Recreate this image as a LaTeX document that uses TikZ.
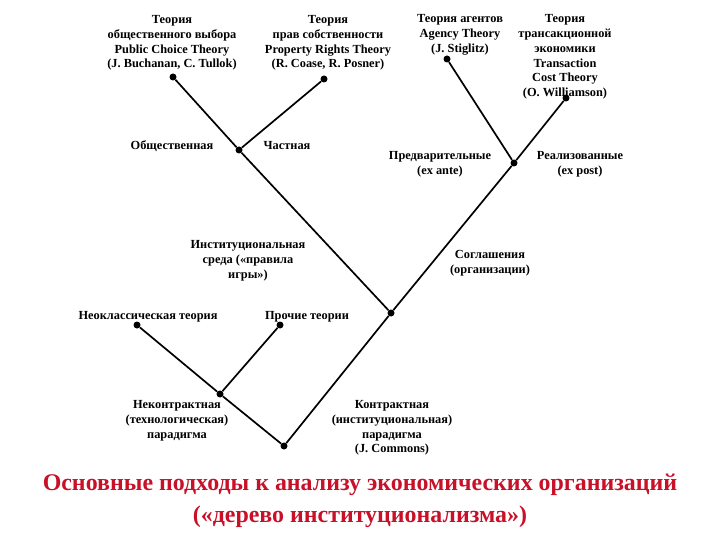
\documentclass[tikz,border=0pt]{standalone}
\usepackage{fontspec}
\setmainfont{Liberation Serif}
\definecolor{titlered}{RGB}{200,16,40}
\begin{document}
\begin{tikzpicture}[x=1bp,y=-1bp,
  dot/.style={circle,fill,inner sep=0pt,minimum size=7bp},
  lbl/.style={align=center,inner sep=0pt,font=\fontsize{12.4}{14.8}\selectfont\bfseries},
  branch/.style={line width=1.7bp}]
  \useasboundingbox (0,0) rectangle (720,540);
  % branch points of the tree
  \node[dot] (pc)   at (173,77)  {};
  \node[dot] (pr)   at (324,79)  {};
  \node[dot] (ag)   at (447,59)  {};
  \node[dot] (tc)   at (566,98)  {};
  \node[dot] (soc)  at (239,150) {};
  \node[dot] (ante) at (514,163) {};
  \node[dot] (agr)  at (391,313) {};
  \node[dot] (neo)  at (137,325) {};
  \node[dot] (oth)  at (280,325) {};
  \node[dot] (ncon) at (220,394) {};
  \node[dot] (root) at (284,446) {};
  % branches
  \draw[branch] (pc) -- (soc);
  \draw[branch] (pr) -- (soc);
  \draw[branch] (soc) -- (agr);
  \draw[branch] (ag) -- (ante);
  \draw[branch] (tc) -- (ante);
  \draw[branch] (ante) -- (agr);
  \draw[branch] (agr) -- (root);
  \draw[branch] (neo) -- (ncon);
  \draw[branch] (oth) -- (ncon);
  \draw[branch] (ncon) -- (root);
  % theories at the top
  \node[lbl] (tpc) at (172,43) {Теория\\общественного выбора\\Public Choice Theory\\(J. Buchanan, C. Tullok)};
  \node[lbl] (tpr) at (328,43) {Теория\\прав собственности\\Property Rights Theory\\(R. Coase, R. Posner)};
  \node[lbl] (tag) at (460,35) {Теория агентов\\Agency Theory\\(J. Stiglitz)};
  \node[lbl] (ttc) at (565,57) {Теория\\трансакционной\\экономики\\Transaction\\Cost Theory\\(O. Williamson)};
  % branch labels
  \node[lbl] (lsoc) at (172,146) {Общественная};
  \node[lbl] (lpriv) at (287,146) {Частная};
  \node[lbl] (lante) at (440,164) {Предварительные\\(ex ante)};
  \node[lbl] (lpost) at (580,164) {Реализованные\\(ex post)};
  \node[lbl] (lenv) at (248,261) {Институциональная\\среда («правила\\игры»)};
  \node[lbl] (lagr) at (490,263) {Соглашения\\(организации)};
  \node[lbl] (lneo) at (148,317) {Неоклассическая теория};
  \node[lbl] (loth) at (307,317) {Прочие теории};
  \node[lbl] (lncon) at (177,421) {Неконтрактная\\(технологическая)\\парадигма};
  \node[lbl] (lcon) at (392,428) {Контрактная\\(институциональная)\\парадигма\\(J. Commons)};
  % title
  \node[align=center,inner sep=0pt,text=titlered,font=\fontsize{24}{32}\selectfont\bfseries]
    (title) at (360,501) {Основные подходы к анализу экономических организаций\\(«дерево институционализма»)};
\end{tikzpicture}
\end{document}
